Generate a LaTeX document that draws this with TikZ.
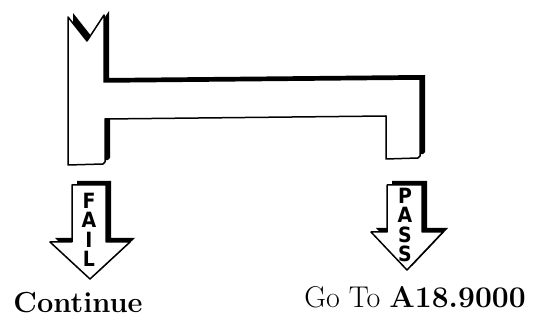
\documentclass[tikz,border=0pt]{standalone}
\usepackage{fontspec}
\newfontfamily\stencilfont{DejaVu Sans Condensed}
\tikzset{
  % ---- outlined symbol with offset shadow ------------------------
  shade/.style   = {fill=black},
  body/.style    = {fill=white, draw=black, line width=1.5pt, line join=round},
  % ---- texts -----------------------------------------------------
  vlab/.style    = {font=\fontsize{21}{19.5}\selectfont\stencilfont\bfseries,
                    align=center, inner sep=0pt},
  outtxt/.style  = {font=\fontsize{30}{34}\selectfont, anchor=base, inner sep=0pt},
}
\newcommand\bracketpath{(68,17) -- (87,41) -- (104,15) -- (104,82) -- (420,79)
  -- (420,156) -- (418,158) -- (386,159) -- (386,116) -- (105,119) -- (105,162)
  -- (103,164) -- (68,165) -- cycle}
\newcommand\failpath{(72,185) -- (106,185) -- (106,242) -- (130,242) -- (90,279)
  -- (50,242) -- (72,242) -- cycle}
\newcommand\passpath{(387,185) -- (422,185) -- (422,232) -- (443,232) -- (407,270)
  -- (371,232) -- (387,232) -- cycle}
\begin{document}
\begin{tikzpicture}[x=1pt, y=-1pt]
\useasboundingbox (0,0) rectangle (544,320);
% bracket
\fill[shade, shift={(5,-4)}] \bracketpath;
\filldraw[body] \bracketpath;
% fail arrow
\fill[shade, shift={(5,-4)}] \failpath;
\filldraw[body] \failpath;
\node[vlab] (faillab) at (89,230) {F\\A\\I\\L};
% pass arrow
\fill[shade, shift={(5,-4)}] \passpath;
\filldraw[body] \passpath;
\node[vlab] (passlab) at (405,225) {P\\A\\S\\S};
% exits
\node[outtxt, font=\fontsize{29}{34}\selectfont\bfseries] (conttxt) at (78,313) {Continue};
\node[outtxt] (gototxt) at (415,308) {Go To \textbf{A18.9000}};
\end{tikzpicture}
\end{document}
